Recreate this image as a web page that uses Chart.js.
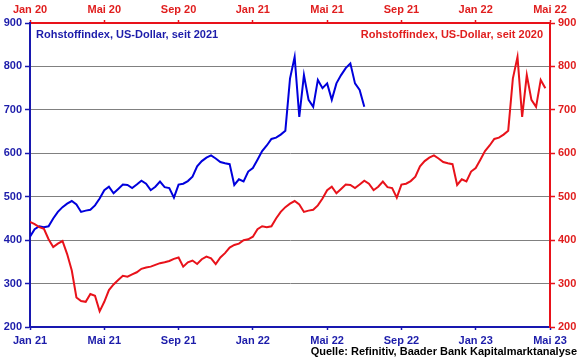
<!DOCTYPE html>
<html>
<head>
<meta charset="utf-8">
<script src="https://cdn.jsdelivr.net/npm/chart.js@4.4.1/dist/chart.umd.min.js"></script>
<style>
  html, body { margin: 0; padding: 0; background: #fff; }
  #wrap { width: 580px; height: 359px; position: relative; }
</style>
</head>
<body>
<div id="wrap"><canvas id="chart"></canvas></div>
<script>
// Achsenbeschriftungen
const labelsTop = ['Jan 20', 'Mai 20', 'Sep 20', 'Jan 21', 'Mai 21', 'Sep 21', 'Jan 22', 'Mai 22'];
const labelsBottom = ['Jan 21', 'Mai 21', 'Sep 21', 'Jan 22', 'Mai 22', 'Sep 22', 'Jan 23', 'Mai 23'];
const yTicks = [200, 300, 400, 500, 600, 700, 800, 900];

// Rohstoffindex, ein Wert je Viertelmonat ab Anfang Januar 2020
const STEP = 0.25;
const rohstoff = [
  442, 437, 430, 426, 402, 384, 392, 398, 368, 330, 268, 260,   // Jan-Mrz 20
  258, 276, 272, 236, 258, 285, 298, 308, 318, 316, 321, 326,   // Apr-Jun 20
  334, 337, 339, 343, 347, 349, 352, 357, 360, 339, 349, 353,   // Jul-Sep 20
  345, 356, 362, 358, 345, 360, 370, 383, 389, 392, 400, 402,   // Okt-Dez 20
  408, 425, 432, 430, 432, 450, 465, 476, 484, 490, 482, 465,   // Jan-Mrz 21
  468, 470, 480, 496, 515, 523, 508, 518, 528, 527, 520, 528,   // Apr-Jun 21
  537, 530, 515, 523, 535, 522, 520, 498, 528, 530, 536, 546,   // Jul-Sep 21
  570, 582, 590, 595, 588, 580, 577, 575, 527, 540, 535, 558,   // Okt-Dez 21
  566, 585, 605, 618, 633, 636, 643, 652, 772, 822, 684, 780,   // Jan-Mrz 22
  723, 707, 769, 750, 761, 723, 761, 780, 796, 807, 761, 746,   // Apr-Jun 22
  707
];
const redEnd = 112;    // rote Linie (seit 2020) endet Ende April 2022
const blueStart = 48;  // blaue Linie (seit 2021) beginnt Januar 2021

const titleBlue = 'Rohstoffindex, US-Dollar, seit 2021';
const titleRed = 'Rohstoffindex, US-Dollar, seit 2020';
const source = 'Quelle: Refinitiv, Baader Bank Kapitalmarktanalyse';

// Farben
const blueLine = '#0000dc';
const blueText = '#1c1caa';
const blueAxis = '#1818b0';
const redLine = '#e8121a';
const redText = '#e01e1e';
const gridGray = '#808080';
const FONT = '"Liberation Sans", Arial, sans-serif';

const redPoints = rohstoff.slice(0, redEnd).map((v, i) => ({ x: i * STEP, y: v }));
const bluePoints = rohstoff.slice(blueStart).map((v, i) => ({ x: i * STEP, y: v }));

const tickFont = { family: FONT, size: 11, weight: 'bold' };

// Titel und Quelle als Text
const textPlugin = {
  id: 'texte',
  afterDraw(chart) {
    const c = chart.ctx;
    c.save();
    c.font = 'bold 11px ' + FONT;
    c.textBaseline = 'middle';
    c.textAlign = 'left';
    c.fillStyle = blueText;
    c.fillText(titleBlue, 36, 35);
    c.textAlign = 'right';
    c.fillStyle = redText;
    c.fillText(titleRed, 543, 35);
    c.fillStyle = '#000';
    c.fillText(source, 577, 352);
    c.restore();
  }
};

function xAxis(pos, labels, col, txt) {
  return {
    type: 'linear',
    position: pos,
    min: 0,
    max: 28,
    afterBuildTicks: s => { s.ticks = labels.map((_, k) => ({ value: k * 4 })); },
    ticks: {
      callback: v => labels[v / 4],
      color: txt,
      font: tickFont,
      padding: pos === 'bottom' ? 4 : 3,
      maxRotation: 0,
      autoSkip: false
    },
    grid: { drawOnChartArea: false, tickLength: 3, tickColor: col, tickWidth: 1.5 },
    border: { color: col, width: 2 },
    afterFit: s => { s.height = pos === 'bottom' ? 32 : 23; }
  };
}

function yAxis(pos, col, txt) {
  return {
    position: pos,
    min: 200,
    max: 900,
    afterBuildTicks: s => { s.ticks = yTicks.map(v => ({ value: v })); },
    ticks: { color: txt, font: tickFont, padding: 3 },
    grid: {
      drawOnChartArea: pos === 'left',
      color: c => (c.tick && (c.tick.value === 200 || c.tick.value === 900)) ? 'rgba(0,0,0,0)' : gridGray,
      lineWidth: 1,
      tickLength: 5,
      tickColor: col,
      tickWidth: 1.5
    },
    border: { color: col, width: 2 },
    afterFit: s => { s.width = 30; }
  };
}

new Chart(document.getElementById('chart'), {
  type: 'line',
  data: {
    datasets: [
      {
        label: titleRed,
        data: redPoints,
        xAxisID: 'xt',
        yAxisID: 'yr',
        borderColor: redLine,
        borderWidth: 2,
        pointRadius: 0,
        tension: 0
      },
      {
        label: titleBlue,
        data: bluePoints,
        xAxisID: 'xb',
        yAxisID: 'yl',
        borderColor: blueLine,
        borderWidth: 2,
        pointRadius: 0,
        tension: 0
      }
    ]
  },
  options: {
    responsive: true,
    maintainAspectRatio: false,
    animation: false,
    layout: { padding: 0 },
    plugins: { legend: { display: false }, tooltip: { enabled: false } },
    scales: {
      xb: xAxis('bottom', labelsBottom, blueAxis, blueText),
      xt: xAxis('top', labelsTop, redLine, redText),
      yl: yAxis('left', blueAxis, blueText),
      yr: yAxis('right', redLine, redText)
    }
  },
  plugins: [textPlugin]
});
</script>
</body>
</html>
